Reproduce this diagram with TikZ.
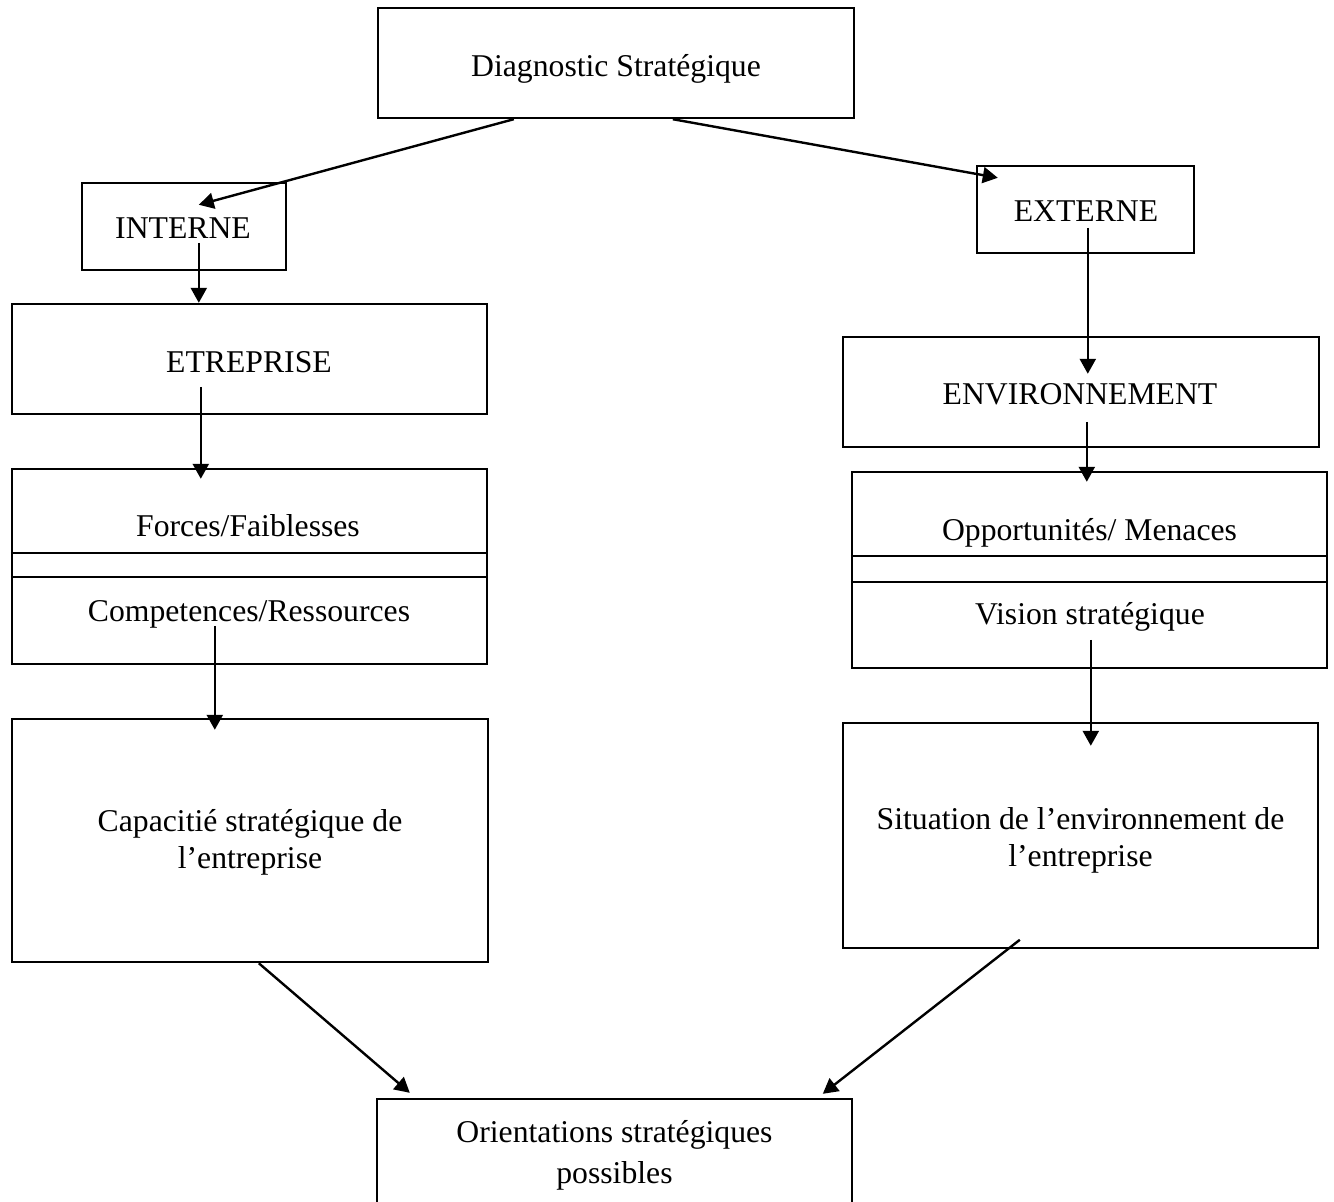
\documentclass[tikz,border=0pt]{standalone}
\usepackage{fontspec}
\setmainfont{Liberation Serif}
\usetikzlibrary{arrows.meta,calc}
\tikzset{
  box/.style={draw=black, line width=2.4pt, inner sep=0pt, rectangle},
  lbl/.style={inner sep=0pt, anchor=base, align=center,
              font=\fontsize{31.7}{37}\selectfont},
  arr/.style={line width=2.4pt, -{Triangle[length=15pt,width=16pt]}},
  sep/.style={line width=2.4pt}
}
\begin{document}
\begin{tikzpicture}[x=1pt,y=-1pt]
  \useasboundingbox (0,0) rectangle (1334,1202);
  \fill[white] (0,0) rectangle (1334,1202);
  \begin{scope}
  \clip (0,0) rectangle (1334,1202);

  % frames
  \node[box, minimum width=476, minimum height=110] (diag)    at (616,63) {};
  \node[box, minimum width=204, minimum height=87]  (interne) at (184,226.5) {};
  \node[box, minimum width=217, minimum height=87]  (externe) at (1085.5,209.5) {};
  \node[box, minimum width=475, minimum height=110] (etre)    at (249.5,359) {};
  \node[box, minimum width=476, minimum height=110] (env)     at (1081,392) {};
  \node[box, minimum width=475, minimum height=195] (forces)  at (249.5,566.5) {};
  \node[box, minimum width=475, minimum height=196] (opp)     at (1089.5,570) {};
  \node[box, minimum width=476, minimum height=243] (capa)    at (250,840.5) {};
  \node[box, minimum width=475, minimum height=225] (situ)    at (1080.5,835.5) {};
  \node[box, minimum width=475, minimum height=131] (orient)  at (614.5,1164.5) {};

  % double separators inside the split boxes
  \draw[sep] ($(forces.north west)+(0,85)$) -- ($(forces.north east)+(0,85)$);
  \draw[sep] ($(forces.north west)+(0,109)$) -- ($(forces.north east)+(0,109)$);
  \draw[sep] ($(opp.north west)+(0,85)$) -- ($(opp.north east)+(0,85)$);
  \draw[sep] ($(opp.north west)+(0,111)$) -- ($(opp.north east)+(0,111)$);

  % texts (base = baseline of the last line)
  \node[lbl] (tdiag)    at (616,76)     {Diagnostic Stratégique};
  \node[lbl] (tinterne) at (183,238)    {INTERNE};
  \node[lbl] (texterne) at (1086,221)   {EXTERNE};
  \node[lbl] (tetre)    at (249,372)    {ETREPRISE};
  \node[lbl] (tenv)     at (1080,404)   {ENVIRONNEMENT};
  \node[lbl] (tforces)  at (248,536)    {Forces/Faiblesses};
  \node[lbl] (tcomp)    at (249,621)    {Competences/Ressources};
  \node[lbl] (topp)     at (1089.5,540) {Opportunités/ Menaces};
  \node[lbl] (tvision)  at (1090,624)   {Vision stratégique};
  \node[lbl] (tcapa)    at (250,868)    {Capacitié stratégique de\\l’entreprise};
  \node[lbl] (tsitu)    at (1080.5,866) {Situation de l’environnement de\\l’entreprise};
  \node[lbl, font=\fontsize{31.7}{41}\selectfont] (torient) at (614.5,1183)
        {Orientations stratégiques\\possibles};

  % connectors
  \draw[arr] ($(diag.south west)+(137,0)$)    -- ($(interne.north west)+(118,23)$);
  \draw[arr] ($(diag.south west)+(296,0)$)    -- ($(externe.north west)+(22,13)$);
  \draw[arr] ($(interne.north west)+(118,61)$) -- ($(etre.north west)+(188,0)$);
  \draw[arr] ($(etre.north west)+(190,84)$)   -- ($(forces.north west)+(190,11)$);
  \draw[arr] ($(externe.north west)+(112,63)$) -- ($(env.north west)+(246,38)$);
  \draw[arr] ($(env.north west)+(245,86)$)    -- ($(opp.north west)+(236,11)$);
  \draw[arr] ($(forces.north west)+(204,158)$) -- ($(capa.north west)+(204,12)$);
  \draw[arr] ($(opp.north west)+(240,169)$)   -- ($(situ.north west)+(249,24)$);
  \draw[arr] ($(capa.south west)+(248,0)$)    -- ($(orient.north west)+(34,-5)$);
  \draw[arr] ($(situ.north west)+(178,218)$)  -- ($(orient.north west)+(447,-4)$);
  \end{scope}
\end{tikzpicture}
\end{document}
